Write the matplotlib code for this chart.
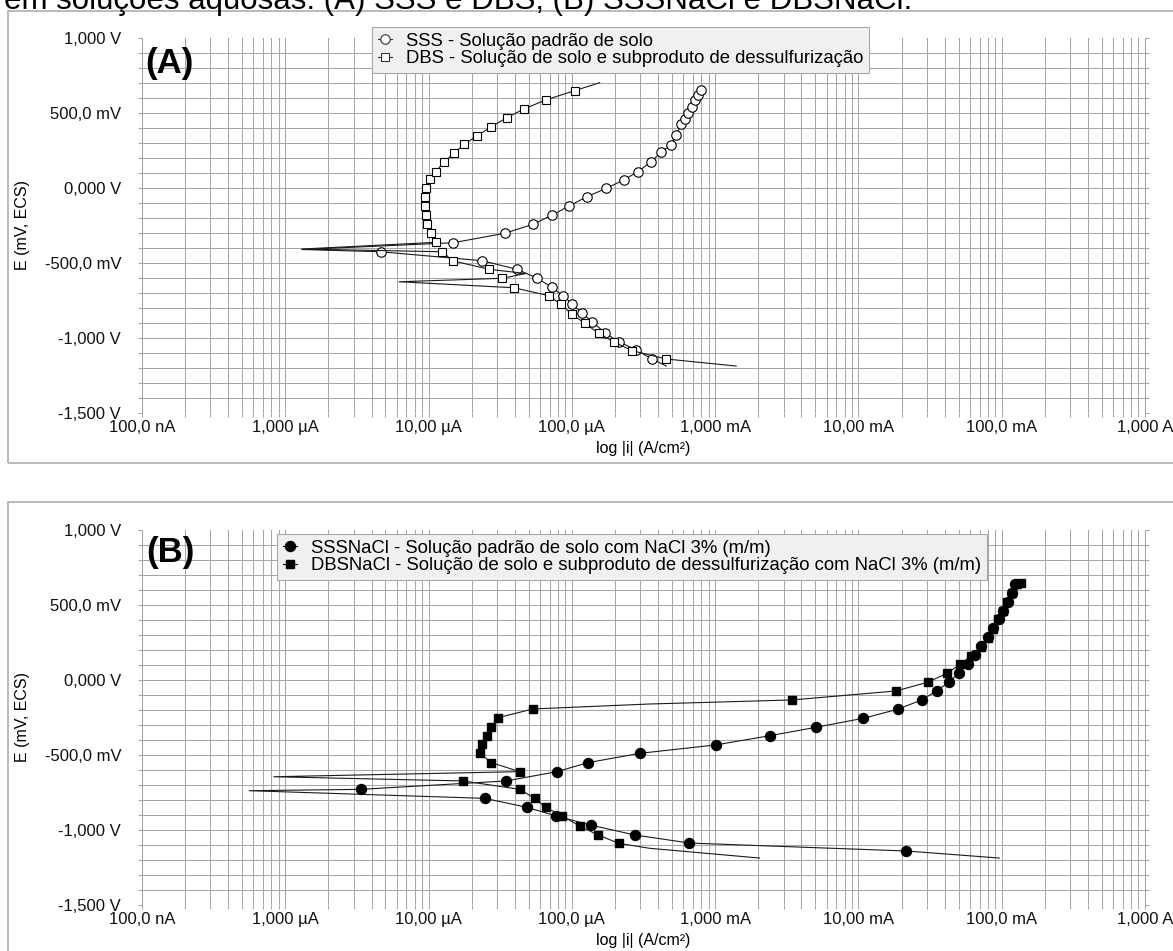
import numpy as np
import matplotlib
matplotlib.use('Agg')
import matplotlib.pyplot as plt
from matplotlib.lines import Line2D
from matplotlib.patches import Rectangle
from matplotlib.ticker import FixedLocator, FixedFormatter, LogLocator, NullFormatter, MultipleLocator

plt.rcParams['font.family'] = ['Liberation Sans', 'DejaVu Sans']

#Axis ticks and their labels (current in A/cm², potential in V)
x_ticks = [1e-7, 1e-6, 1e-5, 1e-4, 1e-3, 1e-2, 1e-1, 1e0]
x_labels = ['100,0 nA', '1,000 µA', '10,00 µA', '100,0 µA', '1,000 mA', '10,00 mA', '100,0 mA', '1,000 A']
y_ticks = [1.0, 0.5, 0.0, -0.5, -1.0, -1.5]
y_labels = ['1,000 V', '500,0 mV', '0,000 V', '-500,0 mV', '-1,000 V', '-1,500 V']

#(A) SSS - log10 of |i| and potential, in scan order (cathodic -> anodic)
sss_logi = [-3.341, -3.441, -3.550, -3.672, -3.771, -3.857, -3.930, -3.997, -4.062, -4.139,
            -4.241, -4.383, -4.624, -5.335, -5.884, -4.829, -4.469, -4.271, -4.136, -4.020,
            -3.895, -3.759, -3.639, -3.539, -3.446, -3.376, -3.306, -3.271, -3.236, -3.213,
            -3.190, -3.160, -3.144, -3.121, -3.097]
sss_e = [-1.187, -1.140, -1.080, -1.025, -0.965, -0.891, -0.835, -0.773, -0.718, -0.662,
         -0.602, -0.542, -0.485, -0.425, -0.410, -0.365, -0.302, -0.242, -0.180, -0.120,
         -0.058, -0.002, 0.053, 0.109, 0.175, 0.242, 0.287, 0.353, 0.425, 0.460,
         0.498, 0.538, 0.587, 0.620, 0.653]
sss_plain = [0, 14]

#(A) DBS
dbs_logi = [-2.853, -3.341, -3.578, -3.709, -3.811, -3.911, -4.001, -4.078, -4.160, -4.406,
            -5.206, -4.485, -4.322, -4.578, -4.833, -4.903, -5.884, -4.945, -4.980, -5.008,
            -5.020, -5.027, -5.027, -5.015, -4.992, -4.950, -4.894, -4.824, -4.752, -4.659,
            -4.561, -4.453, -4.334, -4.183, -3.980, -3.806]
dbs_e = [-1.187, -1.140, -1.085, -1.025, -0.969, -0.902, -0.840, -0.775, -0.718, -0.665,
         -0.625, -0.602, -0.570, -0.542, -0.485, -0.425, -0.407, -0.362, -0.302, -0.242,
         -0.180, -0.118, -0.062, -0.002, 0.058, 0.109, 0.171, 0.231, 0.291, 0.349,
         0.409, 0.469, 0.527, 0.587, 0.649, 0.702]
dbs_plain = [0, 10, 12, 16, 35]

#(B) SSSNaCl
sssn_logi = [-1.017, -1.665, -3.179, -3.562, -3.869, -4.108, -4.313, -4.608, -6.252, -5.475,
             -4.457, -4.104, -3.888, -3.527, -2.997, -2.616, -2.295, -1.965, -1.726, -1.559,
             -1.454, -1.370, -1.301, -1.238, -1.184, -1.144, -1.098, -1.059, -1.017, -0.989,
             -0.959, -0.928, -0.905]
sssn_e = [-1.187, -1.140, -1.087, -1.033, -0.967, -0.907, -0.849, -0.789, -0.738, -0.729,
          -0.673, -0.611, -0.551, -0.489, -0.433, -0.371, -0.315, -0.255, -0.195, -0.133,
          -0.073, -0.015, 0.045, 0.105, 0.167, 0.227, 0.285, 0.345, 0.405, 0.462,
          0.522, 0.582, 0.640]
sssn_plain = [0, 8]

#(B) DBSNaCl
dbsn_logi = [-2.690, -3.457, -3.672, -3.818, -3.946, -4.066, -4.183, -4.259, -4.364, -4.759,
             -6.080, -4.364, -4.561, -4.643, -4.624, -4.592, -4.561, -4.515, -4.271, -3.457,
             -2.462, -1.737, -1.517, -1.381, -1.289, -1.214, -1.144, -1.098, -1.063, -1.029,
             -0.994, -0.966, -0.928, -0.896, -0.863]
dbsn_e = [-1.187, -1.122, -1.089, -1.033, -0.973, -0.907, -0.849, -0.789, -0.729, -0.673,
          -0.645, -0.611, -0.551, -0.489, -0.429, -0.371, -0.311, -0.251, -0.193, -0.160,
          -0.133, -0.073, -0.015, 0.045, 0.105, 0.162, 0.222, 0.282, 0.340, 0.405,
          0.462, 0.522, 0.582, 0.640, 0.645]
dbsn_plain = [0, 1, 10, 19]

legend_a = ['SSS - Solução padrão de solo',
            'DBS - Solução de solo e subproduto de dessulfurização']
legend_b = ['SSSNaCl - Solução padrão de solo com NaCl 3% (m/m)',
            'DBSNaCl - Solução de solo e subproduto de dessulfurização com NaCl 3% (m/m)']

GRID = '#a6a6a6'
W, H = 1173, 951

fig = plt.figure(figsize=(W / 100, H / 100), dpi=100)
fig.patch.set_facecolor('white')

#Caption line, cut at the top edge of the page
fig.text(4 / W, 1 - 9 / H, 'em soluções aquosas: (A) SSS e DBS; (B) SSSNaCl e DBSNaCl.',
         fontsize=22.5, va='baseline', ha='left', color='black')

#Grey frames round each graph
fig.add_artist(Rectangle((8 / W, 1 - 463 / H), 1.2, (463 - 11) / H, transform=fig.transFigure,
                         fill=False, edgecolor='#b4b4b4', linewidth=1.3))
fig.add_artist(Rectangle((8 / W, -0.2), 1.2, 0.2 + 1 - 502 / H, transform=fig.transFigure,
                         fill=False, edgecolor='#b4b4b4', linewidth=1.3))


def marked(n, plain):
    return [k for k in range(n) if k not in plain]


def setup_axes(ax):
    ax.set_xscale('log')
    ax.set_xlim(1e-7, 1e0)
    ax.set_ylim(-1.5, 1.0)
    #grid lines drawn by hand so the outer limits stay open
    for yv in np.arange(-14, 10) / 10.0:
        ax.axhline(yv, color=GRID, lw=0.75, zorder=0)
    for dec in range(-7, 0):
        for m in range(1, 10):
            if dec == -7 and m == 1:
                continue
            ax.axvline(m * 10.0 ** dec, color=GRID, lw=0.75, zorder=0)
    ax.axvline(1e0, color=GRID, lw=0.75, zorder=0, clip_on=False)
    for s in ['top', 'right', 'bottom']:
        ax.spines[s].set_visible(False)
    ax.spines['left'].set_color(GRID)
    ax.spines['left'].set_linewidth(0.75)
    ax.xaxis.set_major_locator(FixedLocator(x_ticks))
    ax.xaxis.set_major_formatter(FixedFormatter(x_labels))
    ax.xaxis.set_minor_locator(LogLocator(base=10, subs=range(2, 10), numticks=20))
    ax.xaxis.set_minor_formatter(NullFormatter())
    ax.yaxis.set_major_locator(FixedLocator(y_ticks))
    ax.yaxis.set_major_formatter(FixedFormatter(y_labels))
    ax.yaxis.set_minor_locator(MultipleLocator(0.1))
    ax.tick_params(axis='both', which='both', color=GRID, width=0.75, length=3,
                   direction='out', labelsize=12, labelcolor='#111111')
    ax.tick_params(axis='y', which='both', left=True, right=True, pad=12)
    ax.tick_params(axis='x', which='both', bottom=True, top=False, pad=2)
    ax.set_xlabel('log |i| (A/cm²)', fontsize=11.5)
    ax.set_ylabel('E (mV, ECS)', fontsize=11.5)
    ax.xaxis.set_label_coords(0.5, -0.075)
    ax.yaxis.set_label_coords(-0.112, 0.5)


def make_legend(ax, handles, labels, x, y):
    leg = ax.legend(handles, labels, loc='upper left', bbox_to_anchor=(x, y),
                    borderaxespad=0, fontsize=13.3, frameon=True, fancybox=False,
                    framealpha=1, facecolor='#f0f0f0', edgecolor='#a8a8a8',
                    handlelength=0.8, handletextpad=0.75, labelspacing=0.05,
                    borderpad=0.3)
    leg.get_frame().set_linewidth(0.8)
    leg.set_zorder(5)
    return leg


left = 142 / W
width = (1145 - 142) / W
height = 375 / H

#(A) graph
ax1 = fig.add_axes([left, 1 - 413 / H, width, height])
setup_axes(ax1)
x = 10.0 ** np.array(sss_logi)
ax1.plot(x, sss_e, color='#1a1a1a', lw=0.8, marker='o', ms=6.8, mfc='white', mec='black',
         mew=0.8, markevery=marked(len(sss_e), sss_plain), zorder=3)
x = 10.0 ** np.array(dbs_logi)
ax1.plot(x, dbs_e, color='#1a1a1a', lw=0.8, marker='s', ms=6.2, mfc='white', mec='black',
         mew=0.8, markevery=marked(len(dbs_e), dbs_plain), zorder=3)
h_a = [Line2D([], [], color='#333333', lw=0.8, marker='o', ms=6.8, mfc='white', mec='#333333', mew=0.8),
       Line2D([], [], color='#333333', lw=0.8, marker='s', ms=6.2, mfc='white', mec='#333333', mew=0.8)]
make_legend(ax1, h_a, legend_a, (372 - 142) / 1003, 1 + 11 / 375)
ax1.text(0.003, 0.931, '(A)', transform=ax1.transAxes, fontsize=25, fontweight='bold',
         ha='left', va='center', zorder=4)

#(B) graph
ax2 = fig.add_axes([left, 1 - 905 / H, width, height])
setup_axes(ax2)
x = 10.0 ** np.array(sssn_logi)
ax2.plot(x, sssn_e, color='#1a1a1a', lw=0.8, marker='o', ms=7.2, mfc='black', mec='black',
         markevery=marked(len(sssn_e), sssn_plain), zorder=3)
x = 10.0 ** np.array(dbsn_logi)
ax2.plot(x, dbsn_e, color='#1a1a1a', lw=0.8, marker='s', ms=6.0, mfc='black', mec='black',
         markevery=marked(len(dbsn_e), dbsn_plain), zorder=3)
h_b = [Line2D([], [], color='black', lw=0.8, marker='o', ms=7.2, mfc='black', mec='black'),
       Line2D([], [], color='black', lw=0.8, marker='s', ms=6.0, mfc='black', mec='black')]
make_legend(ax2, h_b, legend_b, (277 - 142) / 1003, 1 - 4 / 375)
ax2.text(0.004, 0.939, '(B)', transform=ax2.transAxes, fontsize=25, fontweight='bold',
         ha='left', va='center', zorder=4)

fig.savefig('out.png', dpi=100)
